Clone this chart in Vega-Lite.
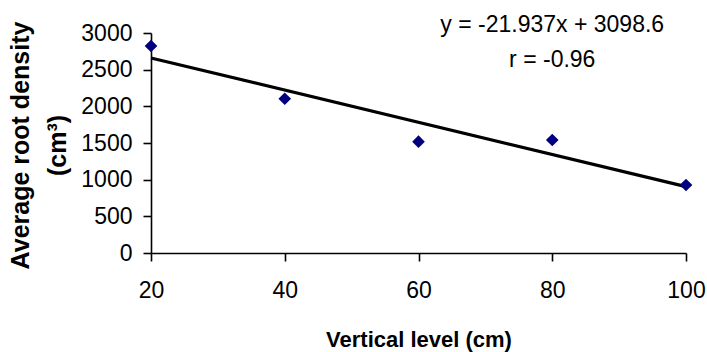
{
  "$schema": "https://vega.github.io/schema/vega-lite/v6.json",
  "width": 535,
  "height": 220,
  "autosize": {"type": "none"},
  "padding": {"left": 151, "top": 33, "right": 21, "bottom": 99},
  "background": "white",
  "config": {
    "view": {"stroke": null},
    "font": "Liberation Sans",
    "axis": {
      "grid": false,
      "domainColor": "black",
      "domainWidth": 1.6,
      "tickColor": "black",
      "tickWidth": 1.6,
      "tickSize": 8,
      "labelColor": "black",
      "labelFont": "Liberation Sans",
      "labelFontSize": 23,
      "labelFlush": false,
      "labelOverlap": false,
      "titleColor": "black",
      "titleFont": "Liberation Sans",
      "titleFontWeight": "bold"
    }
  },
  "encoding": {
    "x": {"field": "level", "type": "quantitative",
          "scale": {"domain": [20, 100], "nice": false, "zero": false},
          "axis": {"values": [20, 40, 60, 80, 100], "title": "Vertical level (cm)",
                   "labelOverlap": false, "labelFlush": false,
                   "labelPadding": 18, "titlePadding": 27, "titleFontSize": 22}},
    "y": {"field": "val", "type": "quantitative",
          "scale": {"domain": [0, 3000], "nice": false},
          "axis": {"values": [0, 500, 1000, 1500, 2000, 2500, 3000],
                   "tickCount": 7,
                   "format": "d",
                   "labelOverlap": false,
                   "title": ["Average root density", "(cm³)"],
                   "titleFontSize": 25,
                   "labelPadding": 11,
                   "titleX": -131, "titleY": 112, "titleAngle": -90,
                   "titleAlign": "center", "titleBaseline": "middle",
                   "titleLineHeight": 37}}
  },
  "layer": [
    {
      "data": {"values": [
        {"level": 20, "val": 2659.9},
        {"level": 100, "val": 904.9}
      ]},
      "mark": {"type": "line", "color": "black", "strokeWidth": 3.2}
    },
    {
      "data": {"values": [
        {"level": 20, "val": 2823},
        {"level": 40, "val": 2104},
        {"level": 60, "val": 1518},
        {"level": 80, "val": 1541},
        {"level": 100, "val": 927}
      ]},
      "mark": {"type": "point", "shape": "diamond", "filled": true, "color": "#000080", "size": 160, "opacity": 1}
    },
    {
      "data": {"values": [
        {"level": 80, "val": 3109, "label": "y = -21.937x + 3098.6"},
        {"level": 80, "val": 2632, "label": "r = -0.96"}
      ]},
      "mark": {"type": "text", "font": "Liberation Sans", "fontSize": 23, "color": "black", "align": "center", "baseline": "middle", "clip": false},
      "encoding": {
        "text": {"field": "label"}
      }
    }
  ]
}
